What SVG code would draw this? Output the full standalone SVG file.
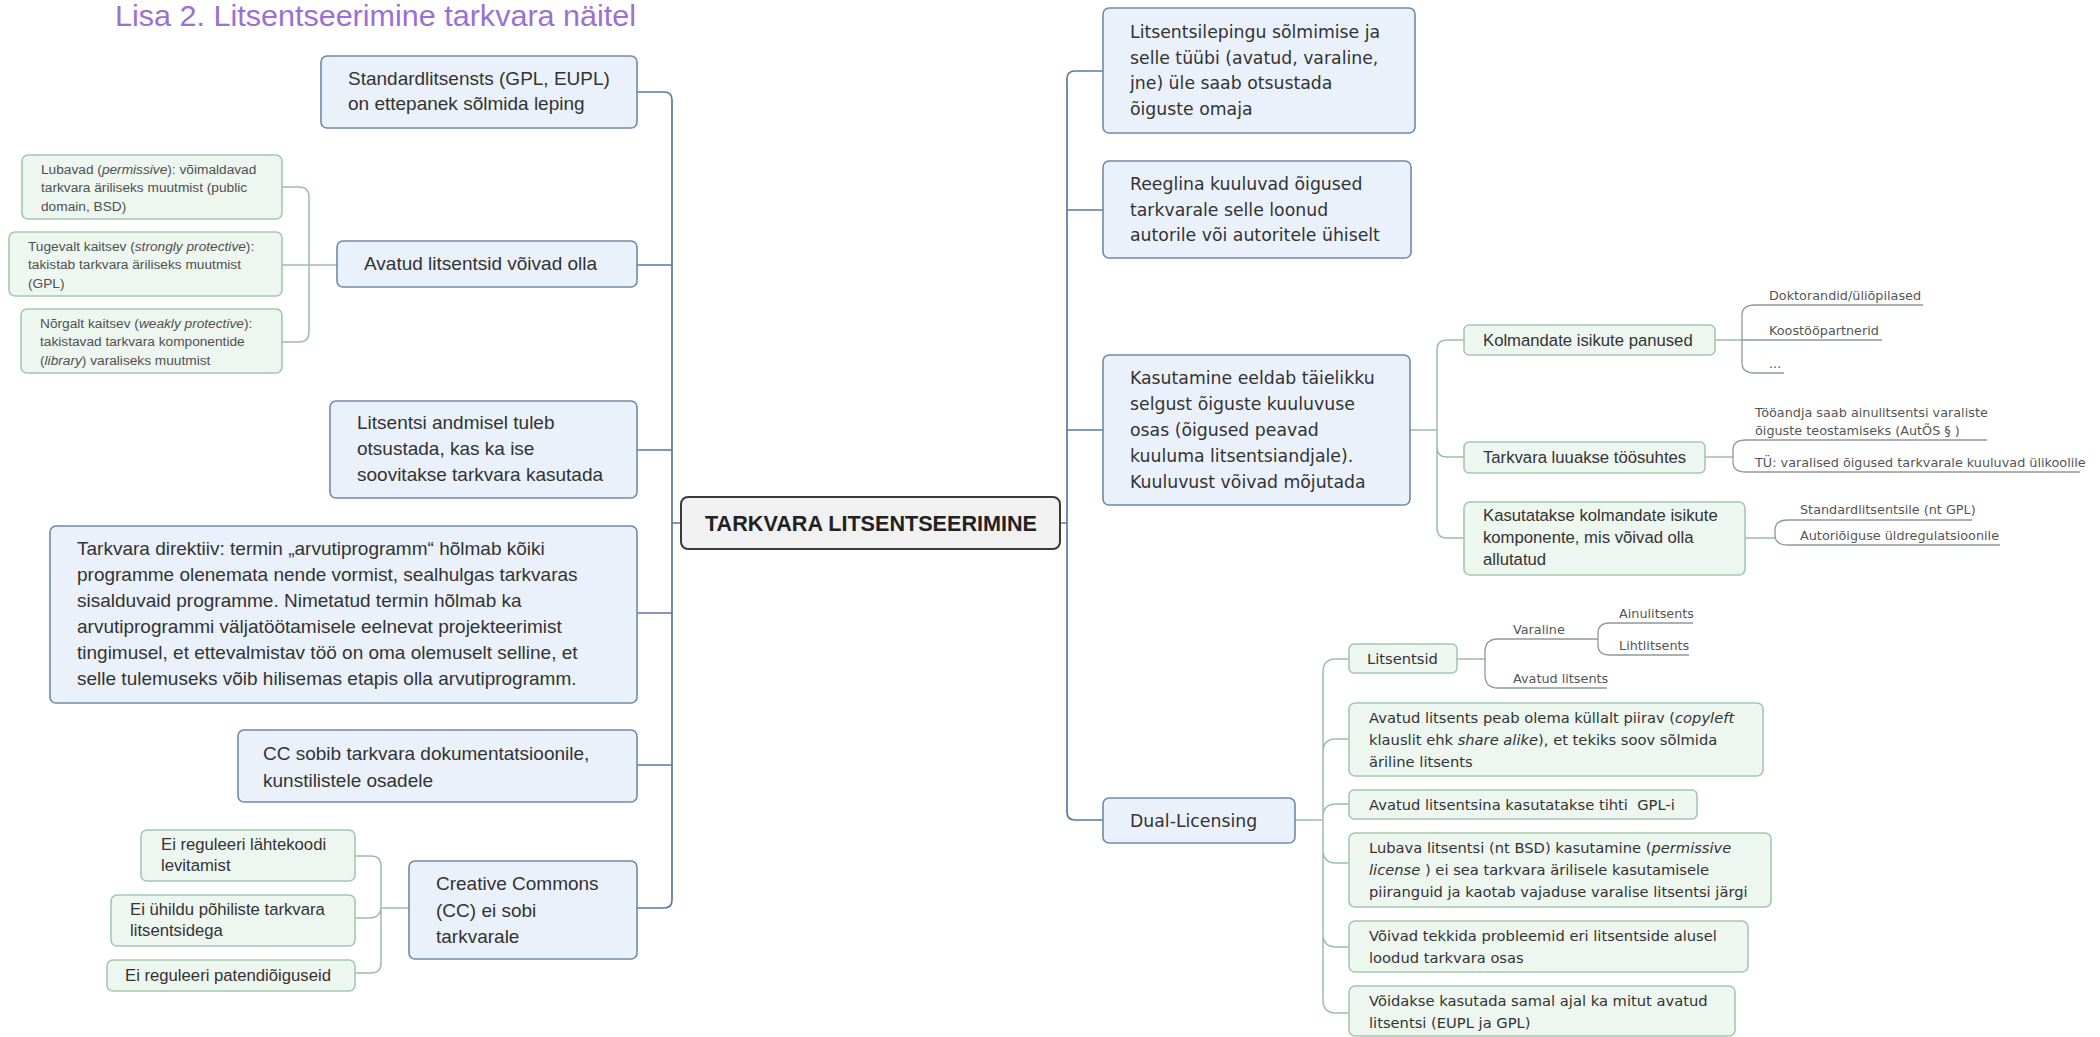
<svg xmlns="http://www.w3.org/2000/svg" width="2100" height="1037" viewBox="0 0 2100 1037">
<style>
.bb{fill:#eaf1fa;stroke:#6f8aa8;stroke-width:1.6}
.gb{fill:#eef6f0;stroke:#a4c8ae;stroke-width:1.6}
.cb{fill:#f1f1f1;stroke:#3a3a3a;stroke-width:2}
text{fill:#333}
.tl{font-family:"Liberation Sans",Arial,sans-serif;font-size:19px}
.tr{font-family:"DejaVu Sans",Verdana,sans-serif;font-size:17.3px}
.tg{font-family:"Liberation Sans",Arial,sans-serif;font-size:16.7px}
.ts{font-family:"Liberation Sans",Arial,sans-serif;font-size:13.7px;fill:#505050}
.tc{font-family:"Liberation Sans",Arial,sans-serif;font-size:16.7px}
.td{font-family:"DejaVu Sans",Verdana,sans-serif;font-size:14.7px}
.lf{font-family:"DejaVu Sans",Verdana,sans-serif;font-size:12.8px;fill:#555}
.it{font-style:italic}
.cn{fill:none;stroke:#5a7a9e;stroke-width:1.7}
.cg{fill:none;stroke:#9dbfa7;stroke-width:1.5}
.ul{fill:none;stroke:#8f9a93;stroke-width:1.3}
</style>
<text x="115" y="26" font-family="'Liberation Sans',Arial,sans-serif" font-size="30" textLength="521" lengthAdjust="spacingAndGlyphs" style="fill:#9b70d4">Lisa 2. Litsentseerimine tarkvara näitel</text>

<g id="connectors">
<path class="cn" d="M637,92 H664 Q672,92 672,100 V900 Q672,908 664,908 H637"/>
<path class="cn" d="M637,265 H672 M637,450 H672 M637,613 H672 M637,765 H672 M672,523 H681"/>
<path class="cn" d="M1103,71 H1075 Q1067,71 1067,79 V812 Q1067,820 1075,820 H1103"/>
<path class="cn" d="M1067,210 H1103 M1067,430 H1103 M1060,523 H1067"/>
<path class="cg" d="M337,265 H282 M309,265 V197 Q309,187 299,187 H282 M309,265 V332 Q309,342 299,342 H282"/>
<path class="cg" d="M409,908 H381 M381,908 V866 Q381,856 371,856 H355 M381,908 V963 Q381,973 371,973 H355 M381,906 Q381,918 369,918 H355"/>
<path class="cg" d="M1410,430 H1437 M1464,340 H1447 Q1437,340 1437,350 V528 Q1437,538 1447,538 H1464 M1437,447 Q1437,457 1447,457 H1464"/>
<path class="cg" d="M1295,820 H1323 M1349,659 H1336 Q1323,659 1323,672 V1000 Q1323,1013 1336,1013 H1349 M1323,752 Q1323,739 1336,739 H1349 M1323,817 Q1323,804 1336,804 H1349 M1323,850 Q1323,863 1336,863 H1349 M1323,934 Q1323,947 1336,947 H1349"/>
<path class="cg" d="M1715,340 H1742 M1705,457 H1733 M1745,538 H1775 M1457,659 H1485"/>
<path class="ul" d="M1742,340 H1882 M1742,340 V315 Q1742,305 1755,305 H1923 M1742,340 V363 Q1742,373 1755,373 H1784"/>
<path class="ul" d="M1733,457 V450 Q1733,440 1746,440 H1987 M1733,457 V462 Q1733,472 1746,472 H2080"/>
<path class="ul" d="M1775,538 V530 Q1775,520 1788,520 H1972 M1775,530 V535 Q1775,545 1788,545 H2000"/>
<path class="ul" d="M1485,659 V652 Q1485,639 1498,639 H1598 M1485,659 V675 Q1485,688 1498,688 H1607 M1598,639 V633 Q1598,623 1610,623 H1693 M1598,639 V645 Q1598,655 1610,655 H1689"/>
</g>

<g id="n-root"><rect class="cb" x="681" y="497" width="379" height="52" rx="7"/><text x="705" y="531" font-family="'Liberation Sans',Arial,sans-serif" font-size="22" font-weight="bold" textLength="332" lengthAdjust="spacingAndGlyphs" style="fill:#222">TARKVARA LITSENTSEERIMINE</text></g>

<g id="n-standard"><rect class="bb" x="321" y="56" width="316" height="72" rx="6"/><text class="tl" x="348" y="85">Standardlitsensts (GPL, EUPL)</text><text class="tl" x="348" y="110">on ettepanek sõlmida leping</text></g>
<g id="n-avatud"><rect class="bb" x="337" y="241" width="300" height="46" rx="6"/><text class="tl" x="364" y="270">Avatud litsentsid võivad olla</text></g>
<g id="n-lubavad"><rect class="gb" x="22" y="155" width="260" height="64" rx="6"/><text class="ts" x="41" y="174">Lubavad (<tspan class="it">permissive</tspan>): võimaldavad</text><text class="ts" x="41" y="192">tarkvara äriliseks muutmist (public</text><text class="ts" x="41" y="211">domain, BSD)</text></g>
<g id="n-tugevalt"><rect class="gb" x="9" y="232" width="273" height="64" rx="6"/><text class="ts" x="28" y="251">Tugevalt kaitsev (<tspan class="it">strongly protective</tspan>):</text><text class="ts" x="28" y="269">takistab tarkvara äriliseks muutmist</text><text class="ts" x="28" y="288">(GPL)</text></g>
<g id="n-norgalt"><rect class="gb" x="21" y="309" width="261" height="64" rx="6"/><text class="ts" x="40" y="328">Nõrgalt kaitsev (<tspan class="it">weakly protective</tspan>):</text><text class="ts" x="40" y="346">takistavad tarkvara komponentide</text><text class="ts" x="40" y="365">(<tspan class="it">library</tspan>) varaliseks muutmist</text></g>
<g id="n-litsentsi"><rect class="bb" x="330" y="401" width="307" height="97" rx="6"/><text class="tl" x="357" y="429">Litsentsi andmisel tuleb</text><text class="tl" x="357" y="455">otsustada, kas ka ise</text><text class="tl" x="357" y="481">soovitakse tarkvara kasutada</text></g>
<g id="n-direktiiv"><rect class="bb" x="50" y="526" width="587" height="177" rx="6"/>
<text class="tl" x="77" y="555">Tarkvara direktiiv: termin „arvutiprogramm“ hõlmab kõiki</text>
<text class="tl" x="77" y="581">programme olenemata nende vormist, sealhulgas tarkvaras</text>
<text class="tl" x="77" y="607">sisalduvaid programme. Nimetatud termin hõlmab ka</text>
<text class="tl" x="77" y="633">arvutiprogrammi väljatöötamisele eelnevat projekteerimist</text>
<text class="tl" x="77" y="659">tingimusel, et ettevalmistav töö on oma olemuselt selline, et</text>
<text class="tl" x="77" y="685">selle tulemuseks võib hilisemas etapis olla arvutiprogramm.</text></g>
<g id="n-ccsobib"><rect class="bb" x="238" y="730" width="399" height="72" rx="6"/><text class="tl" x="263" y="760">CC sobib tarkvara dokumentatsioonile,</text><text class="tl" x="263" y="787">kunstilistele osadele</text></g>
<g id="n-cc"><rect class="bb" x="409" y="861" width="228" height="98" rx="6"/><text class="tl" x="436" y="890">Creative Commons</text><text class="tl" x="436" y="917">(CC) ei sobi</text><text class="tl" x="436" y="943">tarkvarale</text></g>
<g id="n-cc1"><rect class="gb" x="141" y="830" width="214" height="51" rx="6"/><text class="tc" x="161" y="850">Ei reguleeri lähtekoodi</text><text class="tc" x="161" y="871">levitamist</text></g>
<g id="n-cc2"><rect class="gb" x="111" y="895" width="244" height="51" rx="6"/><text class="tc" x="130" y="915">Ei ühildu põhiliste tarkvara</text><text class="tc" x="130" y="936">litsentsidega</text></g>
<g id="n-cc3"><rect class="gb" x="107" y="960" width="248" height="31" rx="6"/><text class="tc" x="125" y="981">Ei reguleeri patendiõiguseid</text></g>

<g id="n-lepingu"><rect class="bb" x="1103" y="8" width="312" height="125" rx="6"/><text class="tr" x="1130" y="38">Litsentsilepingu sõlmimise ja</text><text class="tr" x="1130" y="64">selle tüübi (avatud, varaline,</text><text class="tr" x="1130" y="89">jne) üle saab otsustada</text><text class="tr" x="1130" y="115">õiguste omaja</text></g>
<g id="n-reeglina"><rect class="bb" x="1103" y="161" width="308" height="97" rx="6"/><text class="tr" x="1130" y="190">Reeglina kuuluvad õigused</text><text class="tr" x="1130" y="216">tarkvarale selle loonud</text><text class="tr" x="1130" y="241">autorile või autoritele ühiselt</text></g>
<g id="n-kasutamine"><rect class="bb" x="1103" y="355" width="307" height="150" rx="6"/><text class="tr" x="1130" y="384">Kasutamine eeldab täielikku</text><text class="tr" x="1130" y="410">selgust õiguste kuuluvuse</text><text class="tr" x="1130" y="436">osas (õigused peavad</text><text class="tr" x="1130" y="462">kuuluma litsentsiandjale).</text><text class="tr" x="1130" y="488">Kuuluvust võivad mõjutada</text></g>
<g id="n-kolmandate"><rect class="gb" x="1464" y="325" width="251" height="30" rx="5"/><text class="tg" x="1483" y="346">Kolmandate isikute panused</text></g>
<g id="n-tarkvara"><rect class="gb" x="1464" y="442" width="241" height="31" rx="5"/><text class="tg" x="1483" y="463">Tarkvara luuakse töösuhtes</text></g>
<g id="n-kasutatakse"><rect class="gb" x="1464" y="502" width="281" height="73" rx="6"/><text class="tg" x="1483" y="521">Kasutatakse kolmandate isikute</text><text class="tg" x="1483" y="543">komponente, mis võivad olla</text><text class="tg" x="1483" y="565">allutatud</text></g>
<g id="l-doktor"><text class="lf" x="1769" y="300">Doktorandid/üliõpilased</text></g>
<g id="l-koostoo"><text class="lf" x="1769" y="335">Koostööpartnerid</text></g>
<g id="l-dots"><text class="lf" x="1769" y="368">...</text></g>
<g id="l-tooandja"><text class="lf" x="1755" y="417">Tööandja saab ainulitsentsi varaliste</text><text class="lf" x="1755" y="435">õiguste teostamiseks (AutÕS § )</text></g>
<g id="l-tu"><text class="lf" x="1755" y="467">TÜ: varalised õigused tarkvarale kuuluvad ülikoolile</text></g>
<g id="l-standard"><text class="lf" x="1800" y="514">Standardlitsentsile (nt GPL)</text></g>
<g id="l-autor"><text class="lf" x="1800" y="540">Autoriõiguse üldregulatsioonile</text></g>

<g id="n-dual"><rect class="bb" x="1103" y="798" width="192" height="45" rx="6"/><text class="tr" x="1130" y="827">Dual-Licensing</text></g>
<g id="n-litsentsid"><rect class="gb" x="1349" y="644" width="108" height="29" rx="5"/><text class="td" x="1367" y="664">Litsentsid</text></g>
<g id="l-varaline"><text class="lf" x="1513" y="634">Varaline</text></g>
<g id="l-ainu"><text class="lf" x="1619" y="618">Ainulitsents</text></g>
<g id="l-liht"><text class="lf" x="1619" y="650">Lihtlitsents</text></g>
<g id="l-avatud"><text class="lf" x="1513" y="683">Avatud litsents</text></g>
<g id="n-copyleft"><rect class="gb" x="1349" y="703" width="414" height="73" rx="6"/><text class="td" x="1369" y="723">Avatud litsents peab olema küllalt piirav (<tspan class="it">copyleft</tspan></text><text class="td" x="1369" y="745">klauslit ehk <tspan class="it">share alike</tspan>), et tekiks soov sõlmida</text><text class="td" x="1369" y="767">äriline litsents</text></g>
<g id="n-gpl"><rect class="gb" x="1349" y="790" width="348" height="29" rx="5"/><text class="td" x="1369" y="810">Avatud litsentsina kasutatakse tihti&#160; GPL-i</text></g>
<g id="n-lubava"><rect class="gb" x="1349" y="833" width="422" height="74" rx="6"/><text class="td" x="1369" y="853">Lubava litsentsi (nt BSD) kasutamine (<tspan class="it">permissive</tspan></text><text class="td" x="1369" y="875"><tspan class="it">license</tspan> ) ei sea tarkvara ärilisele kasutamisele</text><text class="td" x="1369" y="897">piiranguid ja kaotab vajaduse varalise litsentsi järgi</text></g>
<g id="n-voivad"><rect class="gb" x="1349" y="921" width="399" height="51" rx="6"/><text class="td" x="1369" y="941">Võivad tekkida probleemid eri litsentside alusel</text><text class="td" x="1369" y="963">loodud tarkvara osas</text></g>
<g id="n-voidakse"><rect class="gb" x="1349" y="986" width="386" height="50" rx="6"/><text class="td" x="1369" y="1006">Võidakse kasutada samal ajal ka mitut avatud</text><text class="td" x="1369" y="1028">litsentsi (EUPL ja GPL)</text></g>
</svg>
